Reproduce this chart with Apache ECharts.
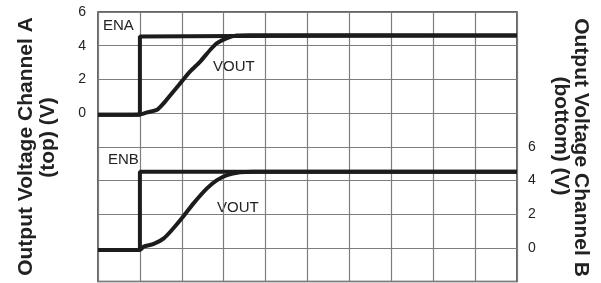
<html>
<head>
    <title></title>
    <meta charset="utf-8">
    <script src="https://cdn.jsdelivr.net/npm/echarts@6/dist/echarts.min.js" type="text/javascript"></script>
</head>
<body style="margin:0">
    <div id="main" style="width: 601px; height: 283px"></div>
    <script>
        // time in scope divisions (0..10), volts
        var ena = [[0, -0.1], [1, -0.1], [1, 4.55], [3.3, 4.58], [10, 4.6]];
        var voutA = [[0, -0.1], [1, -0.08], [1.17, 0.04], [1.41, 0.2], [1.57, 0.59], [1.8, 1.28], [2.0, 1.88],
            [2.2, 2.47], [2.44, 3.06], [2.68, 3.76], [2.84, 4.15], [3.08, 4.45], [3.31, 4.6], [3.6, 4.62], [10, 4.6]];
        var enb = [[0, -0.13], [1, -0.13], [1, 4.52], [10, 4.52]];
        var voutB = [[0, -0.13], [1, -0.12], [1.09, 0.07], [1.33, 0.23], [1.57, 0.56], [1.8, 1.16], [2.0, 1.75],
            [2.28, 2.64], [2.6, 3.53], [2.84, 4.02], [3.08, 4.32], [3.39, 4.48], [3.71, 4.52], [10, 4.52]];
        var leftTicks = [0, 2, 4, 6];
        var rightTicks = [0, 2, 4, 6];

        var lineCol = '#1c1c1c';
        var gridCol = '#7d7d7d';
        var txt = '#222';

        var myChart = echarts.init(document.getElementById('main'));

        function ser(name, data, yIdx, smooth) {
            return {
                name: name, type: 'line', data: data, yAxisIndex: yIdx,
                showSymbol: false, smooth: smooth, animation: false,
                lineStyle: { color: lineCol, width: 4 }
            };
        }

        var option = {
            animation: false,
            grid: {
                left: 98, right: 84, top: 12, bottom: 1.5,
                show: true, borderColor: '#333', borderWidth: 1.5
            },
            xAxis: {
                type: 'value', min: 0, max: 10, interval: 1,
                axisLine: { show: false }, axisTick: { show: false }, axisLabel: { show: false },
                splitLine: { show: true, lineStyle: { color: gridCol, width: 1.2 } }
            },
            yAxis: [{
                type: 'value', min: -10, max: 6, interval: 2, position: 'left',
                axisLine: { show: false }, axisTick: { show: false },
                axisLabel: {
                    margin: 12, color: txt, fontSize: 14, fontFamily: 'Liberation Sans',
                    formatter: function (v) { return leftTicks.indexOf(v) >= 0 ? String(v) : ''; }
                },
                splitLine: { show: true, lineStyle: { color: gridCol, width: 1.2 } }
            }, {
                type: 'value', min: -2, max: 14, interval: 2, position: 'right',
                axisLine: { show: false }, axisTick: { show: false },
                axisLabel: {
                    margin: 11, color: txt, fontSize: 14, fontFamily: 'Liberation Sans',
                    formatter: function (v) { return rightTicks.indexOf(v) >= 0 ? String(v) : ''; }
                },
                splitLine: { show: false }
            }],
            graphic: [
                { type: 'text', x: 103, y: 26, style: { text: 'ENA', font: '15px "Liberation Sans"', fill: txt, textVerticalAlign: 'middle' } },
                { type: 'text', x: 210, y: 67, style: { text: 'VOUT', font: '15px "Liberation Sans"', fill: txt, textVerticalAlign: 'middle', backgroundColor: '#fff', padding: [3, 3, 3, 3] } },
                { type: 'text', x: 108, y: 160, style: { text: 'ENB', font: '15px "Liberation Sans"', fill: txt, textVerticalAlign: 'middle' } },
                { type: 'text', x: 213, y: 208, style: { text: 'VOUT', font: '15px "Liberation Sans"', fill: txt, textVerticalAlign: 'middle', backgroundColor: '#fff', padding: [3, 5, 3, 4] } },
                { type: 'text', x: 26, y: 146.5, rotation: Math.PI / 2, style: { text: 'Output Voltage Channel A', font: 'bold 21px "Liberation Sans"', fill: txt, textAlign: 'center', textVerticalAlign: 'middle' } },
                { type: 'text', x: 48, y: 137.5, rotation: Math.PI / 2, style: { text: '(top) (V)', font: 'bold 21px "Liberation Sans"', fill: txt, textAlign: 'center', textVerticalAlign: 'middle' } },
                { type: 'text', x: 580.5, y: 147.5, rotation: -Math.PI / 2, style: { text: 'Output Voltage Channel B', font: 'bold 21px "Liberation Sans"', fill: txt, textAlign: 'center', textVerticalAlign: 'middle' } },
                { type: 'text', x: 561, y: 136, rotation: -Math.PI / 2, style: { text: '(bottom) (V)', font: 'bold 21px "Liberation Sans"', fill: txt, textAlign: 'center', textVerticalAlign: 'middle' } }
            ],
            series: [
                ser('ENA', ena, 0, false),
                ser('VOUT A', voutA, 0, 0.25),
                ser('ENB', enb, 1, false),
                ser('VOUT B', voutB, 1, 0.25)
            ]
        };
        myChart.setOption(option);
    </script>
</body>
</html>
